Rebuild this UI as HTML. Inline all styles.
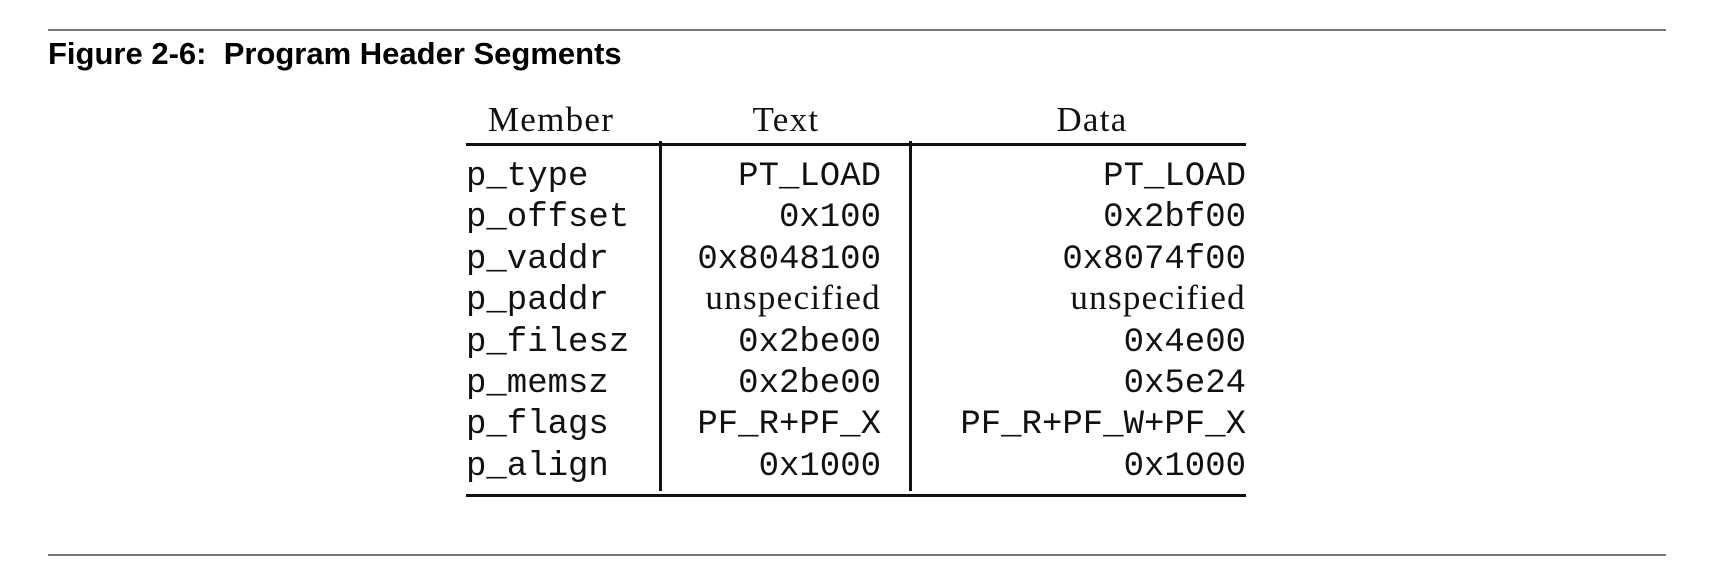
<!DOCTYPE html>
<html><head><meta charset="utf-8"><style>
body{margin:0;width:1724px;height:572px;background:#fff;position:relative;overflow:hidden}
.a{position:absolute;white-space:pre;line-height:1}
.m{font-family:"Liberation Mono",monospace;font-size:34px;color:#111}
.s{font-family:"Liberation Serif",serif;font-size:35px;letter-spacing:1.3px;color:#111}
.m .s{line-height:0}
.r{text-align:right}
.hl{position:absolute;background:#111}
</style></head><body>
<div class="hl" style="left:48px;top:29px;width:1618px;height:2px;background:#777"></div>
<div class="hl" style="left:48px;top:554px;width:1618px;height:2px;background:#777"></div>
<div class="a" style="left:48px;top:38px;font-family:'Liberation Sans',sans-serif;font-weight:bold;font-size:31px;color:#000">Figure 2-6:  Program Header Segments</div>

<div class="a s" style="left:454px;width:194px;top:102px;text-align:center">Member</div>
<div class="a s" style="left:662px;width:248px;top:102px;text-align:center">Text</div>
<div class="a s" style="left:925px;width:334px;top:102px;text-align:center">Data</div>

<div class="hl" style="left:466px;top:143px;width:780px;height:3px"></div>
<div class="hl" style="left:466px;top:494px;width:780px;height:3px"></div>
<div class="hl" style="left:659px;top:141px;width:3px;height:350px"></div>
<div class="hl" style="left:909px;top:141px;width:3px;height:350px"></div>

<div class="a m" style="left:466px;top:157px;line-height:41.4px">p_type
p_offset
p_vaddr
p_paddr
p_filesz
p_memsz
p_flags
p_align</div>

<div class="a m r" style="left:662px;width:219px;top:157px;line-height:41.4px">PT_LOAD
0x100
0x8048100
<span class="s">unspecified</span>
0x2be00
0x2be00
PF_R+PF_X
0x1000</div>

<div class="a m r" style="left:912px;width:334px;top:157px;line-height:41.4px">PT_LOAD
0x2bf00
0x8074f00
<span class="s">unspecified</span>
0x4e00
0x5e24
PF_R+PF_W+PF_X
0x1000</div>
</body></html>
